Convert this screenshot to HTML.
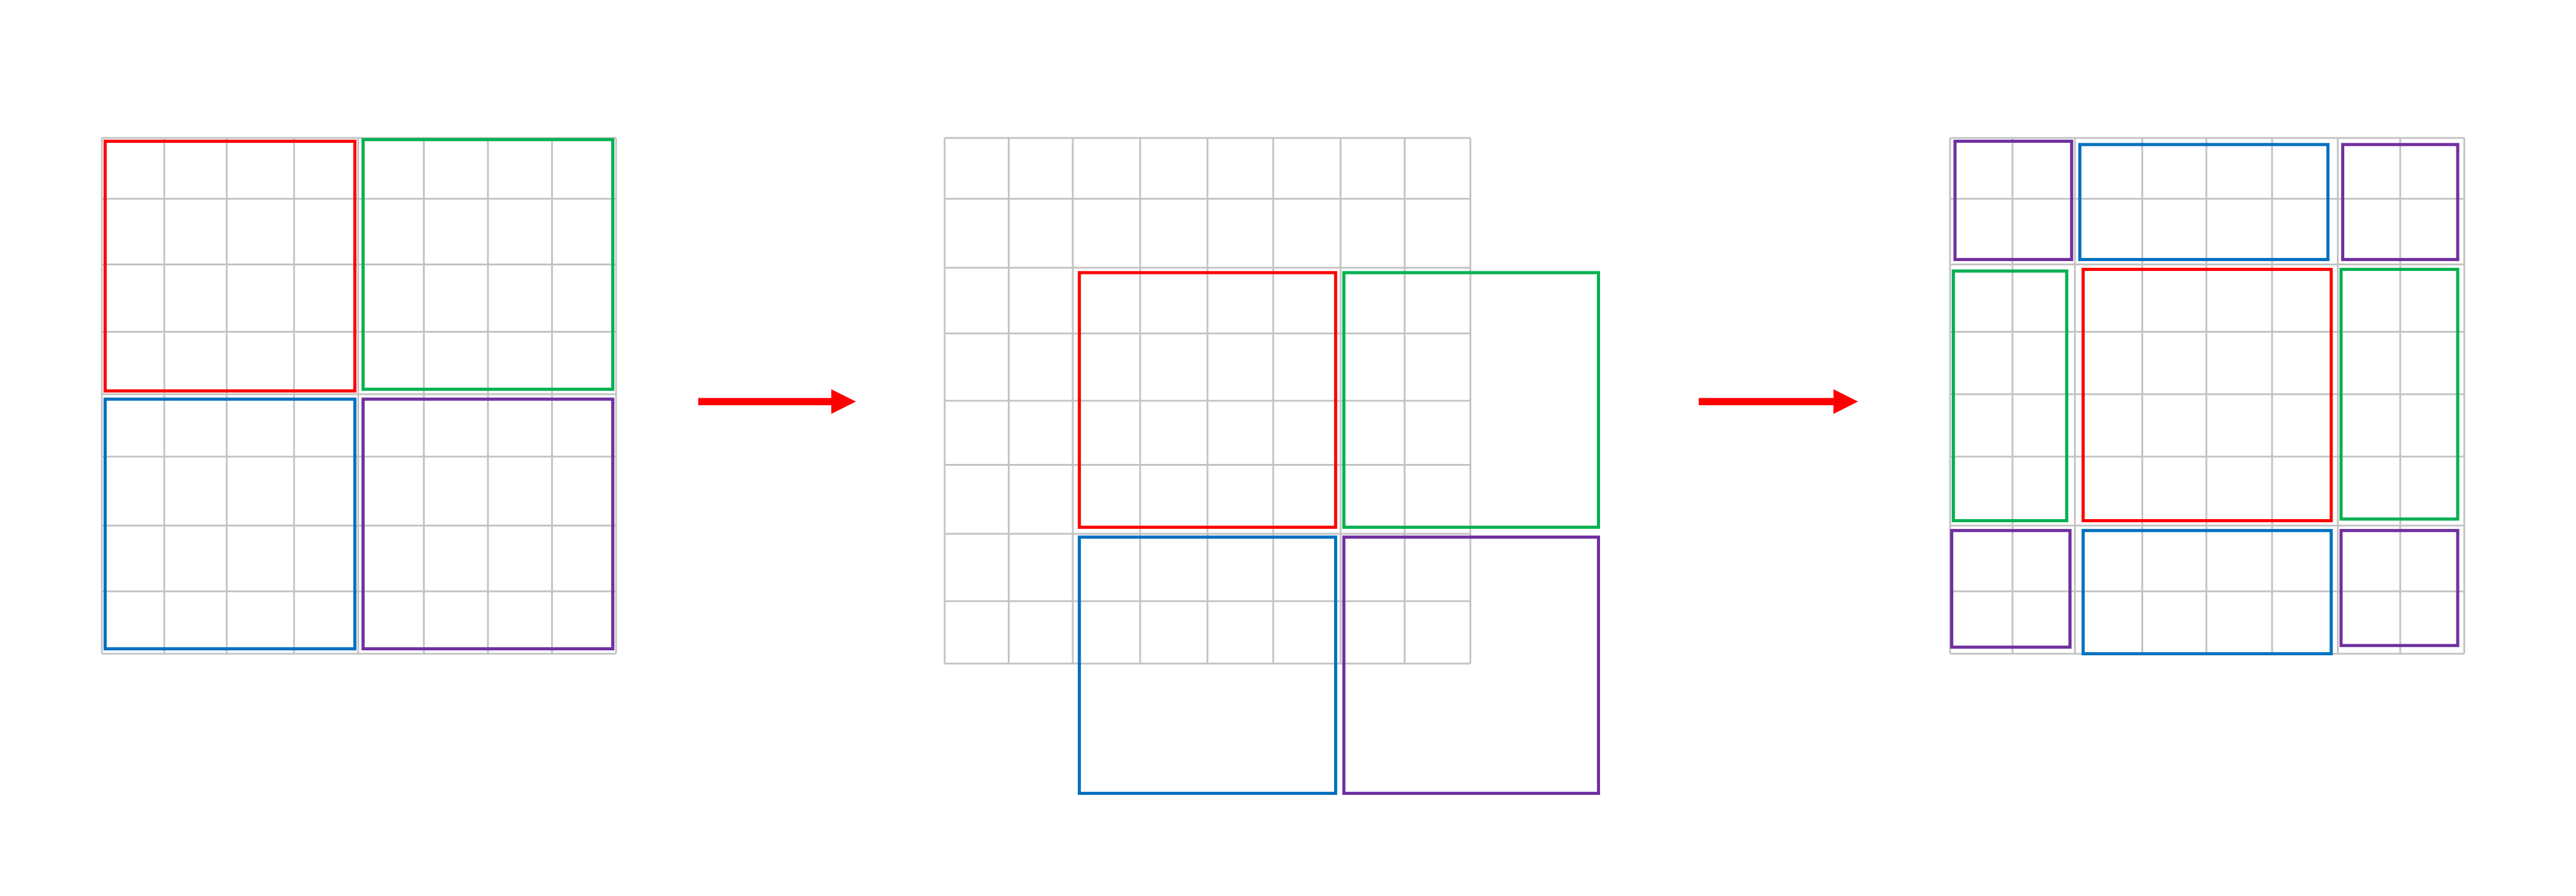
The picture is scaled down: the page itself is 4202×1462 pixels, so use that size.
<!DOCTYPE html>
<html><head><meta charset="utf-8"><style>html,body{margin:0;padding:0;background:#fff}svg{display:block}</style></head>
<body>
<svg width="4202" height="1462" viewBox="0 0 1568 545.5" preserveAspectRatio="none" xmlns="http://www.w3.org/2000/svg">
<g id="g"></g>
</svg>
<script>
const NS='http://www.w3.org/2000/svg';
const root=document.getElementById('g');
// grid line positions
const grid1X=[62,100,138,179,218,258,297,336,375];
const grid1Y=[84,121,161,202,240,278,320,360,398];
const grid2X=[575,614,653,694,735,775,816,855,895];
const grid2Y=[84,121,163,203,244,283,325,366,404];
const grid3X=[1187,1225,1263,1304,1343,1383,1423,1461,1500];
const grid3Y=[84,121,161,202,240,278,320,360,398];
const colors={red:'#ff0000',green:'#00b050',blue:'#0070c0',purple:'#7030a0'};
// rectangles: [name, color, x1, y1, x2, y2]
const rects=[
 ['panel1-red','red',64,86,216,238],['panel1-green','green',221,85,373,237],
 ['panel1-blue','blue',64,243,216,395],['panel1-purple','purple',221,243,373,395],
 ['panel2-red','red',657,166,813,321],['panel2-green','green',818,166,973,321],
 ['panel2-blue','blue',657,327,813,483],['panel2-purple','purple',818,327,973,483],
 ['panel3-purple-tl','purple',1190,86,1261,158],['panel3-blue-top','blue',1266,88,1417,158],
 ['panel3-purple-tr','purple',1426,88,1496,158],['panel3-green-left','green',1189,165,1258,317],
 ['panel3-red-center','red',1268,164,1419,317],['panel3-green-right','green',1425,164,1496,316],
 ['panel3-purple-bl','purple',1188,323,1260,394],['panel3-blue-bottom','blue',1268,323,1419,398],
 ['panel3-purple-br','purple',1425,323,1496,393]
];
function el(tag,attrs){const e=document.createElementNS(NS,tag);for(const k in attrs)e.setAttribute(k,attrs[k]);return e;}
function drawGrid(xs,ys,name){
 const g=el('g',{});
 
 
 xs.forEach(x=>{const l=el('line',{x1:x,y1:ys[0],x2:x,y2:ys[ys.length-1],stroke:'#c3c3c3','stroke-width':1.1});
  
  
  g.appendChild(l);});
 ys.forEach(y=>{const l=el('line',{x1:xs[0],y1:y,x2:xs[xs.length-1],y2:y,stroke:'#c3c3c3','stroke-width':1.1});
  
  
  g.appendChild(l);});
 root.appendChild(g);
}
drawGrid(grid1X,grid1Y,'grid-panel-1');
drawGrid(grid2X,grid2Y,'grid-panel-2');
drawGrid(grid3X,grid3Y,'grid-panel-3');
rects.forEach(r=>{
 const e=el('rect',{x:r[2],y:r[3],width:r[4]-r[2],height:r[5]-r[3],fill:'none',stroke:colors[r[1]],'stroke-width':1.9});
 
 
 root.appendChild(e);
});
// arrows: [x start, head start, tip, y]
const arrows=[[425,506,521,244.5],[1034,1116,1131,244.5]];
arrows.forEach((a,i)=>{
 const g=el('g',{});
 
 
 g.appendChild(el('rect',{x:a[0],y:a[3]-2.2,width:a[1]-a[0]+1,height:4.4,fill:'#ff0000'}));
 g.appendChild(el('polygon',{points:`${a[1]},${a[3]-7.5} ${a[2]},${a[3]} ${a[1]},${a[3]+7.5}`,fill:'#ff0000'}));
 root.appendChild(g);
});
</script>
</body></html>
